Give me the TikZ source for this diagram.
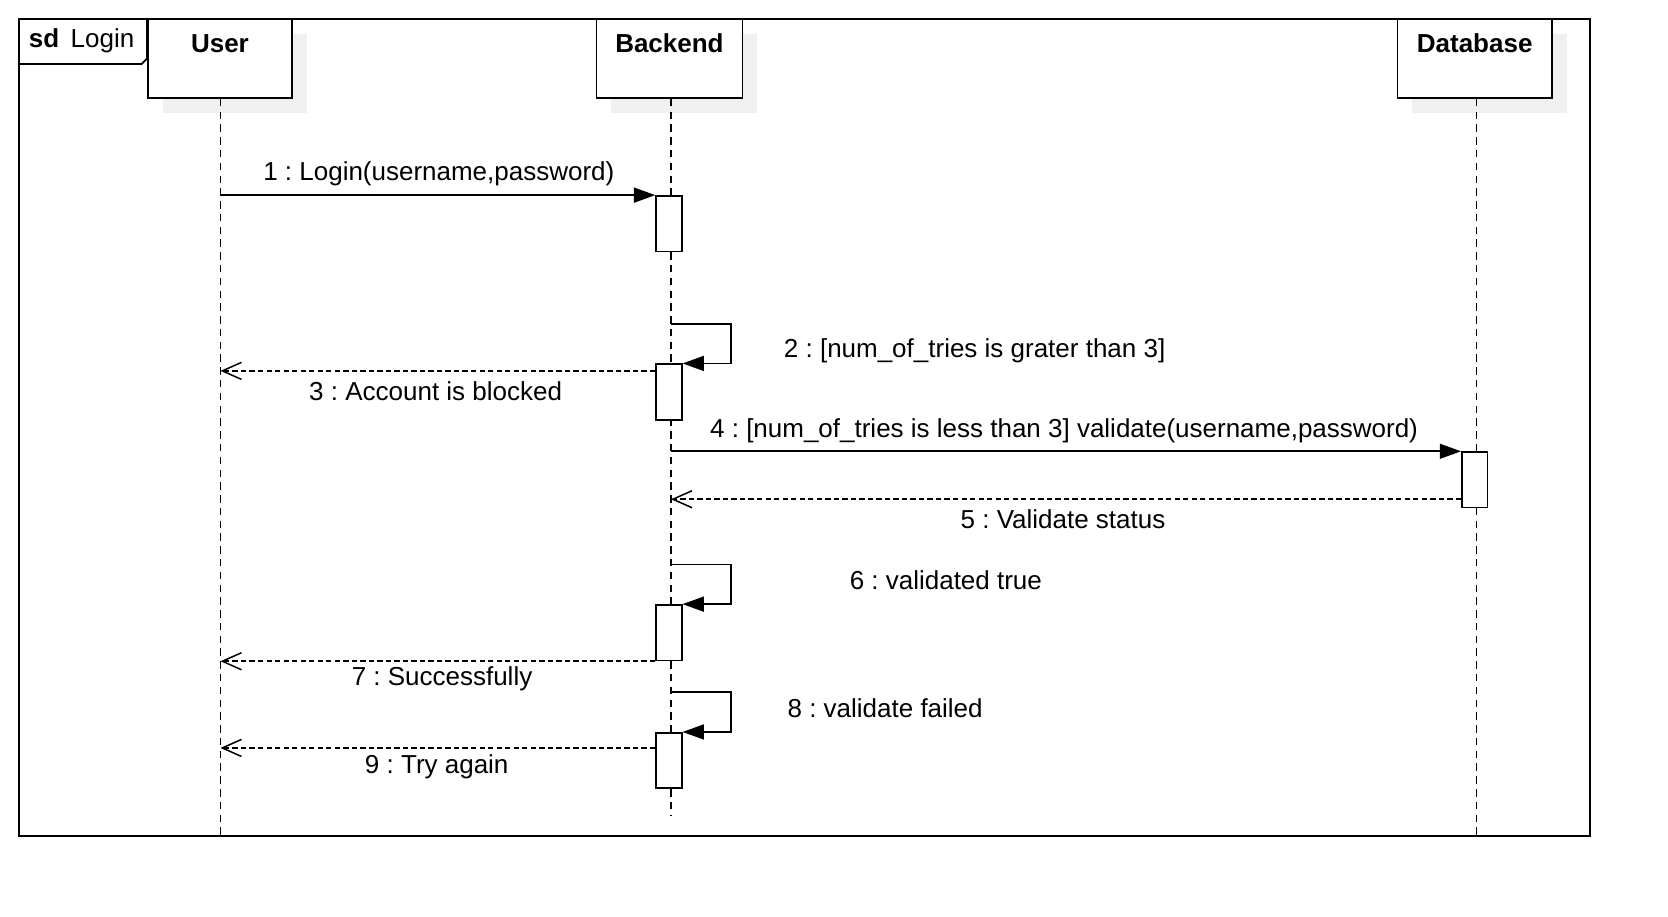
\documentclass[tikz,border=0pt]{standalone}
\usepackage{fontspec}
\setmainfont{Liberation Sans}
\usetikzlibrary{arrows.meta,shadows}
\frenchspacing

\begin{document}
\begin{tikzpicture}[x=0.5pt,y=-0.5pt,
    every node/.style={font=\fontsize{12.2}{14}\selectfont},
    head/.style={draw,line width=0.8pt,fill=white,minimum width=#1,minimum height=37pt,
        text height=9pt,text depth=14.3pt,inner ysep=6.85pt,
        font=\fontsize{12.2}{14}\selectfont\bfseries,
        drop shadow={shadow xshift=7pt,shadow yshift=-7pt,fill=black!6,opacity=1}},
    act/.style={draw,line width=0.8pt,fill=white,minimum width=12pt,minimum height=26pt,inner sep=0pt},
    life/.style={line width=0.6pt,dash pattern=on 3.5pt off 2.5pt},
    call/.style={line width=0.8pt,-{Triangle[length=10pt,width=7pt]}},
    reply/.style={line width=0.7pt,dash pattern=on 2.5pt off 1.5pt,-{Straight Barb[length=9pt,width=8pt]}}]

    \useasboundingbox (0,0) rectangle (1566,860);

    % frame
    \draw[line width=0.8pt] (18,18) rectangle (1493,785);
    \draw[line width=0.8pt] (18,60) -- (133,60) -- (138,55) -- (138,18);
    \node[anchor=west] (title) at (20,38) {\textbf{sd}\, Login};

    % lifelines
    \node[head=67.5pt] (user) at (206.5,55) {User};
    \node[head=68.5pt] (backend) at (628.5,55) {Backend};
    \node[head=72.5pt] (db) at (1384.5,55) {Database};

    \coordinate (userend) at (207,785);
    \coordinate (backendend) at (630,765);
    \coordinate (dbend) at (1386,785);

    \draw[life] (user.south -| userend) -- (userend);
    \draw[life] (backend.south -| backendend) -- (backendend);
    \draw[life] (db.south -| dbend) -- (dbend);

    % activations
    \node[act] (act1) at (628,210) {};
    \node[act] (act2) at (628,368) {};
    \node[act] (act3) at (1384.5,450.5) {};
    \node[act] (act4) at (628,594) {};
    \node[act] (act5) at (628,714) {};

    \coordinate (s2) at (630,304);
    \coordinate (s6) at (630,530);
    \coordinate (s8) at (630,650);

    % messages
    \draw[call] (userend |- act1.north) -- (act1.north west);
    \node (m1) at (412,163) {1 : Login(username,password)};

    \draw[call] (s2) -- ++(56,0) |- (act2.north east);
    \node (m2) at (915,329) {2 : [num\_of\_tries is grater than 3]};

    \draw[reply] ([yshift=-3.5pt]act2.north west) coordinate (r3) -- (userend |- r3);
    \node (m3) at (409,367) {3 : Account is blocked};

    \draw[call] (backendend |- act3.north) -- (act3.north west);
    \node (m4) at (999,404) {4 : [num\_of\_tries is less than 3] validate(username,password)};

    \draw[reply] ([yshift=-22.5pt]act3.north west) coordinate (r5) -- (backendend |- r5);
    \node (m5) at (998,487) {5 : Validate status};

    \draw[call] (s6) -- ++(56,0) |- (act4.north east);
    \node (m6) at (888,545) {6 : validated true};

    \draw[reply] (act4.south west) -- (userend |- act4.south);
    \node (m7) at (415,637) {7 : Successfully};

    \draw[call] (s8) -- ++(56,0) |- (act5.north east);
    \node (m8) at (831,665) {8 : validate failed};

    \draw[reply] ([yshift=-7.5pt]act5.north west) coordinate (r9) -- (userend |- r9);
    \node (m9) at (410,720) {9 : Try again};

\end{tikzpicture}
\end{document}
